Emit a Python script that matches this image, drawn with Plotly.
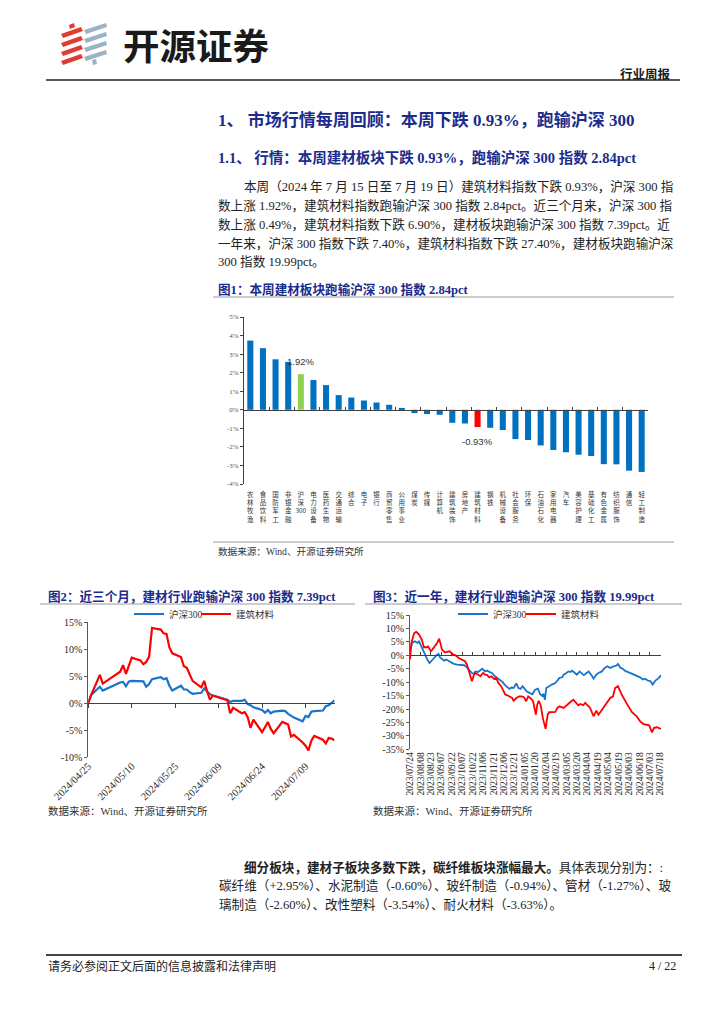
import plotly.graph_objects as go
import pandas as pd

W, H = 724, 1024
def px(x): return x / W
def py(y): return 1 - y / H

SERIF = "Liberation Serif, Noto Sans CJK SC"
CJK = "Noto Sans CJK SC, Liberation Sans"
NAVY = "#1B2C8C"
BLUE_BAR = "#0070C0"
GREEN_BAR = "#92D050"
RED = "#FF0000"
LINE_BLUE = "#1874CD"
AXIS = "#595959"

# ---------------- Figure 1 data ----------------
industries = ["农林牧渔", "食品饮料", "国防军工", "非银金融", "沪深300", "电力设备", "医药生物", "交通运输",
              "综合", "电子", "银行", "商贸零售", "公用事业", "煤炭", "传媒", "计算机", "建筑装饰", "房地产",
              "建筑材料", "钢铁", "机械设备", "社会服务", "环保", "石油石化", "家用电器", "汽车", "美容护理",
              "基础化工", "有色金属", "纺织服饰", "通信", "轻工制造"]
weekly_chg = [3.73, 3.32, 2.72, 2.58, 1.92, 1.60, 1.33, 0.79, 0.66, 0.50, 0.39, 0.27, 0.10, -0.18, -0.23,
              -0.27, -0.70, -0.74, -0.93, -0.97, -1.09, -1.58, -1.63, -1.92, -2.17, -2.29, -2.42, -2.49,
              -2.93, -2.94, -3.28, -3.35]
bar_yticks = [5, 4, 3, 2, 1, 0, -1, -2, -3, -4]
highlight_index = "沪深300"
highlight_sector = "建筑材料"

# ---------------- Figure 2 data ----------------
dates_3m = ["2024-04-25", "2024-04-26", "2024-04-29", "2024-04-30", "2024-05-06", "2024-05-07", "2024-05-08",
            "2024-05-09", "2024-05-10", "2024-05-13", "2024-05-14", "2024-05-15", "2024-05-16", "2024-05-17",
            "2024-05-20", "2024-05-21", "2024-05-22", "2024-05-23", "2024-05-24", "2024-05-27", "2024-05-28",
            "2024-05-29", "2024-05-30", "2024-05-31", "2024-06-03", "2024-06-04", "2024-06-05", "2024-06-06",
            "2024-06-07", "2024-06-11", "2024-06-12", "2024-06-13", "2024-06-14", "2024-06-17", "2024-06-18",
            "2024-06-19", "2024-06-20", "2024-06-21", "2024-06-24", "2024-06-25", "2024-06-26", "2024-06-27",
            "2024-06-28", "2024-07-01", "2024-07-02", "2024-07-03", "2024-07-04", "2024-07-05", "2024-07-08",
            "2024-07-09", "2024-07-10", "2024-07-11", "2024-07-12", "2024-07-15", "2024-07-16", "2024-07-17",
            "2024-07-18", "2024-07-19"]
hs300_3m = [0, 1.5, 3.0, 2.3, 3.8, 3.9, 3.1, 4.0, 4.1, 4.1, 4.0, 3.0, 3.5, 4.4, 4.8, 4.4, 4.6, 3.2, 2.3,
            3.2, 2.5, 2.5, 2.0, 1.7, 1.9, 2.7, 2.1, 1.6, 1.4, 0.7, 0.6, 0.2, 0.4, 0.4, 0.6, -0.2, -0.4,
            -0.8, -1.3, -1.8, -1.3, -1.9, -1.6, -1.4, -1.5, -2.0, -2.4, -2.7, -3.4, -2.4, -2.6, -1.6, -1.5,
            -1.4, -0.6, -0.4, 0.0, 0.49]
jcai_3m = [0, 1.5, 5.2, 3.6, 5.8, 7.0, 5.4, 7.0, 8.4, 7.9, 7.2, 7.6, 8.6, 13.9, 13.6, 12.9, 12.8, 10.3, 9.2,
           8.5, 6.8, 6.5, 5.3, 4.1, 2.9, 4.1, 2.2, 0.6, 1.4, 0.6, 0.5, -1.9, -0.9, -1.9, -1.7, -2.6, -4.6,
           -3.1, -5.4, -4.5, -3.5, -4.8, -5.6, -3.5, -3.8, -4.0, -6.2, -5.9, -7.3, -7.9, -8.8, -7.0, -6.1,
           -6.8, -7.5, -6.5, -6.6, -6.9]
ticks_3m = ["2024/04/25", "2024/05/10", "2024/05/25", "2024/06/09", "2024/06/24", "2024/07/09"]
yticks_3m = [15, 10, 5, 0, -5, -10]

# ---------------- Figure 3 data ----------------
start_1y = "2023-07-24"
hs300_1y_day = [0, 1, 3, 7, 11, 13, 15, 19, 22, 25, 28, 31, 34, 38, 41, 43, 45, 49, 52, 56, 60, 63, 68, 73,
                78, 82, 85, 89, 92, 94, 98, 101, 104, 108, 111, 114, 118, 122, 125, 129, 133, 136, 140, 143,
                146, 149, 153, 156, 159, 162, 165, 168, 172, 176, 180, 184, 187, 190, 192, 194, 196, 200,
                204, 209, 212, 215, 219, 221, 225, 228, 231, 233, 236, 240, 244, 247, 250, 254, 257, 262,
                264, 268, 271, 276, 280, 284, 288, 293, 297, 299, 303, 306, 310, 313, 317, 322, 326, 331,
                335, 338, 342, 346, 349, 353, 358, 361]
hs300_1y = [1.2, 2.1, 4.6, 5.2, 4.6, 5.2, 4.0, 2.1, 0.2, -1.6, -2.9, -2.2, -1.2, 0.0, 0.5, -0.7, -1.2, -2.0,
            -1.6, -2.2, -2.5, -3.2, -3.5, -3.5, -3.7, -4.5, -5.3, -6.6, -6.9, -6.0, -6.2, -5.7, -5.0, -6.0,
            -5.7, -6.2, -6.6, -7.8, -8.4, -9.4, -9.9, -10.9, -11.8, -12.5, -12.0, -12.2, -10.5, -12.2, -12.5,
            -11.5, -12.5, -13.5, -14.0, -14.5, -12.8, -12.4, -14.4, -15.1, -14.3, -16.6, -12.2, -11.5, -10.9,
            -10.3, -9.1, -8.4, -8.2, -7.2, -6.6, -6.0, -6.2, -5.7, -6.3, -7.2, -6.0, -6.6, -7.4, -6.6, -6.0,
            -7.8, -8.7, -7.2, -6.6, -6.0, -4.7, -4.1, -4.7, -4.1, -3.8, -3.2, -4.7, -5.0, -5.9, -6.2, -6.6,
            -7.2, -7.8, -8.2, -9.0, -8.7, -9.4, -9.7, -10.9, -9.4, -8.4, -7.4]
jcai_1y_day = [0, 2, 6, 9, 13, 17, 20, 24, 26, 30, 32, 36, 39, 42, 44, 46, 50, 54, 57, 61, 66, 70, 75, 79,
               82, 85, 87, 89, 92, 94, 98, 101, 105, 108, 111, 114, 117, 121, 124, 127, 131, 134, 137, 140,
               143, 147, 149, 153, 157, 160, 164, 167, 170, 173, 177, 181, 183, 185, 188, 191, 195, 198, 200,
               209, 212, 215, 221, 225, 232, 235, 242, 245, 249, 252, 259, 264, 268, 271, 275, 281, 288, 292,
               295, 299, 301, 305, 312, 319, 326, 331, 336, 344, 348, 351, 355, 361]
jcai_1y = [-1.5, 4.6, 8.3, 8.7, 7.7, 5.8, 3.0, 3.0, 3.3, 1.5, 2.1, 3.3, 4.6, 6.2, 4.0, 2.1, 1.1, 1.2, 1.5, 0.5,
           -0.1, -1.0, -1.6, -2.2, -3.5, -6.0, -7.8, -9.7, -7.2, -6.6, -7.2, -7.8, -6.6, -7.2, -7.4, -8.2,
           -7.8, -8.8, -8.4, -10.3, -11.5, -13.4, -14.6, -14.9, -15.3, -15.9, -16.9, -15.9, -15.3, -15.3,
           -15.6, -17.1, -15.3, -15.9, -17.1, -22.1, -18.4, -16.9, -18.6, -23.3, -27.4, -22.1, -21.2, -21.1,
           -19.6, -19.0, -19.6, -18.6, -17.1, -16.5, -18.6, -18.1, -18.6, -17.7, -19.6, -22.7, -20.6, -22.1,
           -20.6, -18.4, -15.9, -15.3, -12.2, -11.5, -12.8, -14.9, -18.1, -21.1, -22.7, -24.6, -25.6, -26.1,
           -28.7, -27.0, -26.8, -27.4]
ticks_1y = ["2023/07/24", "2023/08/08", "2023/08/23", "2023/09/07", "2023/09/22", "2023/10/07", "2023/10/22",
            "2023/11/06", "2023/11/21", "2023/12/06", "2023/12/21", "2024/01/05", "2024/01/20", "2024/02/04",
            "2024/02/19", "2024/03/05", "2024/03/20", "2024/04/04", "2024/04/19", "2024/05/04", "2024/05/19",
            "2024/06/03", "2024/06/18", "2024/07/03", "2024/07/18"]
yticks_1y = [15, 10, 5, 0, -5, -10, -15, -20, -25, -30, -35]

series_names = ["沪深300", "建筑材料"]

# ---------------- helpers ----------------
def vlabel(name):
    parts, buf = [], ""
    for ch in name:
        if ch.isascii():
            buf += ch
        else:
            if buf:
                parts.append(buf); buf = ""
            parts.append(ch)
    if buf:
        parts.append(buf)
    return "<br>".join(parts)

def to_dates(start, days):
    return [pd.Timestamp(start) + pd.Timedelta(days=d) for d in days]

def pct(v):
    return f"{v}%"

# ---------------- geometry (page pixels) ----------------
b_x0, b_x1, b_ytop, b_ybot = 244, 648, 317, 484
c2_x0, c2_x1, c2_ytop, c2_ybot = 88.3, 334.5, 622, 757
c3_x0, c3_x1, c3_ytop, c3_ybot = 410, 661, 615, 749.3

def zero_pos(ytop, ybot, lo, hi):
    b, t = py(ybot), py(ytop)
    return b + (0 - lo) / (hi - lo) * (t - b)

fig = go.Figure()

# ---- Figure 1 bars ----
bar_colors = [GREEN_BAR if n == highlight_index else RED if n == highlight_sector else BLUE_BAR
              for n in industries]
fig.add_trace(go.Bar(x=industries, y=weekly_chg, marker=dict(color=bar_colors, line=dict(width=0)),
                     width=0.48, xaxis="x4", yaxis="y", showlegend=False, hoverinfo="skip"))
fig.add_trace(go.Scatter(x=industries, y=weekly_chg, mode="markers", marker=dict(opacity=0),
                         xaxis="x", yaxis="y", showlegend=False, hoverinfo="skip"))

# ---- Figure 2 lines ----
fig.add_trace(go.Scatter(x=dates_3m, y=hs300_3m, mode="lines", name=series_names[0],
                         line=dict(color=LINE_BLUE, width=2.2), xaxis="x2", yaxis="y2",
                         legend="legend", hoverinfo="skip"))
fig.add_trace(go.Scatter(x=dates_3m, y=jcai_3m, mode="lines", name=series_names[1],
                         line=dict(color=RED, width=2.2), xaxis="x2", yaxis="y2",
                         legend="legend3", hoverinfo="skip"))
fig.add_trace(go.Scatter(x=dates_3m, y=hs300_3m, mode="markers", marker=dict(opacity=0),
                         xaxis="x5", yaxis="y2", showlegend=False, hoverinfo="skip"))

# ---- Figure 3 lines ----
d_hs = to_dates(start_1y, hs300_1y_day)
d_jc = to_dates(start_1y, jcai_1y_day)
fig.add_trace(go.Scatter(x=d_hs, y=hs300_1y, mode="lines", name=series_names[0],
                         line=dict(color=LINE_BLUE, width=1.8), xaxis="x3", yaxis="y3",
                         legend="legend2", hoverinfo="skip"))
fig.add_trace(go.Scatter(x=d_jc, y=jcai_1y, mode="lines", name=series_names[1],
                         line=dict(color=RED, width=1.8), xaxis="x3", yaxis="y3",
                         legend="legend4", hoverinfo="skip"))
fig.add_trace(go.Scatter(x=d_hs, y=hs300_1y, mode="markers", marker=dict(opacity=0),
                         xaxis="x6", yaxis="y3", showlegend=False, hoverinfo="skip"))

tickfont_s = dict(family=SERIF, size=10, color="#262626")

def leg(x):
    return dict(orientation="h", x=px(x), y=py(614), xanchor="left", yanchor="middle",
                font=dict(family=SERIF, size=9.5, color="#333"), bgcolor="rgba(0,0,0,0)",
                itemwidth=30, tracegroupgap=0)

layout = dict(
    template="none",
    width=W, height=H, autosize=False,
    margin=dict(l=0, r=0, t=0, b=0, pad=0),
    paper_bgcolor="white", plot_bgcolor="rgba(0,0,0,0)",
    font=dict(family=CJK, color="#1a1a1a"),
    # figure 1
    xaxis=dict(domain=[px(b_x0), px(b_x1)], anchor="y", type="category", automargin=False,
               categoryorder="array", categoryarray=industries, range=[-0.5, len(industries) - 0.5],
               tickmode="array", tickvals=industries, ticktext=[vlabel(n) for n in industries],
               tickangle=0, ticks="", showline=False, showgrid=False, zeroline=False,
               tickfont=dict(family=CJK, size=6.5, color="#333"), ticklabelstandoff=5),
    xaxis4=dict(matches="x", overlaying="x", anchor="free", automargin=False,
                position=zero_pos(b_ytop, b_ybot, -4, 5), type="category",
                categoryorder="array", categoryarray=industries,
                showline=True, linecolor="#404040", linewidth=1, ticks="inside", ticklen=3,
                tickcolor="#404040", tickson="boundaries", showticklabels=False,
                showgrid=False, zeroline=False),
    yaxis=dict(domain=[py(b_ybot), py(b_ytop)], anchor="x", range=[-4, 5], automargin=False,
               tickmode="array", tickvals=bar_yticks, ticktext=[pct(v) for v in bar_yticks],
               showline=True, linecolor="#404040", linewidth=1, ticks="outside", ticklen=3,
               tickcolor="#404040", showgrid=False, zeroline=False,
               tickfont=dict(family=SERIF, size=7, color="#555")),
    # figure 2
    xaxis2=dict(domain=[px(c2_x0), px(c2_x1)], anchor="y2", type="date", automargin=False,
                range=[dates_3m[0], dates_3m[-1]], tickmode="array",
                tickvals=[t.replace("/", "-") for t in ticks_3m], ticktext=ticks_3m,
                tickangle=-45, ticks="", showline=False, showgrid=False, zeroline=False,
                tickfont=dict(family=SERIF, size=10.5, color="#262626")),
    xaxis5=dict(matches="x2", overlaying="x2", anchor="free", automargin=False,
                position=zero_pos(c2_ytop, c2_ybot, -10, 15), type="date",
                tickmode="array", tickvals=[t.replace("/", "-") for t in ticks_3m],
                showline=True, linecolor="#404040", linewidth=1, ticks="outside", ticklen=4,
                tickcolor="#404040", showticklabels=False, showgrid=False, zeroline=False),
    yaxis2=dict(domain=[py(c2_ybot), py(c2_ytop)], anchor="x2", range=[-10, 15], automargin=False,
                tickmode="array", tickvals=yticks_3m, ticktext=[pct(v) for v in yticks_3m],
                showline=True, linecolor=AXIS, linewidth=1, ticks="outside", ticklen=3,
                tickcolor=AXIS, showgrid=False, zeroline=False, tickfont=tickfont_s),
    # figure 3
    xaxis3=dict(domain=[px(c3_x0), px(c3_x1)], anchor="y3", type="date", automargin=False,
                range=[start_1y, "2024-07-19"], tickmode="array",
                tickvals=[t.replace("/", "-") for t in ticks_1y], ticktext=ticks_1y,
                tickangle=-90, ticks="", showline=False, showgrid=False, zeroline=False,
                tickfont=dict(family=SERIF, size=9.5, color="#262626")),
    xaxis6=dict(matches="x3", overlaying="x3", anchor="free", automargin=False,
                position=zero_pos(c3_ytop, c3_ybot, -35, 15), type="date",
                tickmode="array", tickvals=[t.replace("/", "-") for t in ticks_1y],
                showline=True, linecolor="#404040", linewidth=1, ticks="inside", ticklen=3,
                tickcolor="#404040", showticklabels=False, showgrid=False, zeroline=False),
    yaxis3=dict(domain=[py(c3_ybot), py(c3_ytop)], anchor="x3", range=[-35, 15], automargin=False,
                tickmode="array", tickvals=yticks_1y, ticktext=[pct(v) for v in yticks_1y],
                showline=True, linecolor=AXIS, linewidth=1, ticks="outside", ticklen=3,
                tickcolor=AXIS, showgrid=False, zeroline=False, tickfont=tickfont_s),
    legend=leg(129),
    legend3=leg(196),
    legend2=leg(453),
    legend4=leg(521),
)
fig.update_layout(**layout)

# ---------------- shapes ----------------
shapes = []
def hline(y, x0, x1, color, width):
    shapes.append(dict(type="line", xref="paper", yref="paper", x0=px(x0), x1=px(x1),
                       y0=py(y), y1=py(y), line=dict(color=color, width=width)))

def poly(points, color):
    d = "M " + " L ".join(f"{px(x):.5f},{py(y):.5f}" for x, y in points) + " Z"
    shapes.append(dict(type="path", xref="paper", yref="paper", path=d,
                       fillcolor=color, line=dict(width=0)))

# logo stripes (decorative)
for y0 in [34, 43, 52, 61]:
    poly([(61, y0), (81, y0 - 7), (83, y0 - 3), (63, y0 + 4)], "#E03C31")
for y0 in [30, 39, 48, 57]:
    poly([(84, y0), (106, y0 - 7), (107, y0 - 3), (86, y0 + 4)], "#9BB3C6")
poly([(69, 25), (74, 23), (75, 27), (70, 29)], "#E03C31")
poly([(92, 60), (96, 59), (97, 64), (93, 65)], "#9BB3C6")

hline(80, 46, 680, "#222", 1.5)
hline(297, 213, 674, "#9a9a9a", 1)
hline(542, 213, 674, "#9a9a9a", 1)
hline(604, 40, 355, "#9a9a9a", 1)
hline(604, 365, 682, "#9a9a9a", 1)
hline(955, 46, 682, "#444", 1.8)
fig.update_layout(shapes=shapes)

# ---------------- text ----------------
ann = []
def text(x, y, s, size, color="#1a1a1a", family=SERIF, anchor="left"):
    ann.append(dict(xref="paper", yref="paper", x=px(x), y=py(y), text=s, showarrow=False,
                    xanchor=anchor, yanchor="middle", font=dict(family=family, size=size, color=color)))

text(121, 44, "<b>开源证券</b>", 36.5, "#1a1a1a", CJK)
text(673, 73, "<b>行业周报</b>", 12.5, "#1a1a1a", CJK, "right")
text(216, 120, "<b>1、 市场行情每周回顾：本周下跌 0.93%，跑输沪深 300</b>", 17, NAVY)
text(216, 157, "<b>1.1、 行情：本周建材板块下跌 0.93%，跑输沪深 300 指数 2.84pct</b>", 14.5, NAVY)
body = [
    (242, 186, "本周（2024 年 7 月 15 日至 7 月 19 日）建筑材料指数下跌 0.93%，沪深 300 指"),
    (216, 205, "数上涨 1.92%，建筑材料指数跑输沪深 300 指数 2.84pct。近三个月来，沪深 300 指"),
    (216, 224, "数上涨 0.49%，建筑材料指数下跌 6.90%，建材板块跑输沪深 300 指数 7.39pct。近"),
    (216, 243, "一年来，沪深 300 指数下跌 7.40%，建筑材料指数下跌 27.40%，建材板块跑输沪深"),
    (216, 262, "300 指数 19.99pct。"),
]
for x, y, s in body:
    text(x, y, s, 12.6, "#222")
text(216, 289, "<b>图1：本周建材板块跑输沪深 300 指数 2.84pct</b>", 12.6, NAVY)
text(216, 551, "数据来源：Wind、开源证券研究所", 9.6, "#333")
text(46, 596, "<b>图2：近三个月，建材行业跑输沪深 300 指数 7.39pct</b>", 12.6, NAVY)
text(371, 596, "<b>图3：近一年，建材行业跑输沪深 300 指数 19.99pct</b>", 12.6, NAVY)
text(46, 811, "数据来源：Wind、开源证券研究所", 10.5, "#333")
text(371, 811, "数据来源：Wind、开源证券研究所", 10.5, "#333")
text(242, 867, "<b>细分板块，建材子板块多数下跌，碳纤维板块涨幅最大。</b>具体表现分别为：:", 12.6, "#222")
text(217, 886, "碳纤维（+2.95%）、水泥制造（-0.60%）、玻纤制造（-0.94%）、管材（-1.27%）、玻", 12.6, "#222")
text(217, 905, "璃制造（-2.60%）、改性塑料（-3.54%）、耐火材料（-3.63%）。", 12.6, "#222")
text(46, 966, "请务必参阅正文后面的信息披露和法律声明", 12, "#222")
text(678, 966, "4 / 22", 12, "#222", SERIF, "right")

# bar data labels
for name, shift in [(highlight_index, 13), (highlight_sector, -14)]:
    v = weekly_chg[industries.index(name)]
    ann.append(dict(xref="x", yref="y", x=name, y=v, yshift=shift, text=f"{v:.2f}%",
                    showarrow=False, xanchor="center", yanchor="middle",
                    font=dict(family="Liberation Sans", size=9.5, color="#333")))

fig.update_layout(annotations=ann)
fig.write_html("out.html", config={"displayModeBar": False},
               post_script="document.body.style.margin='0px';")
